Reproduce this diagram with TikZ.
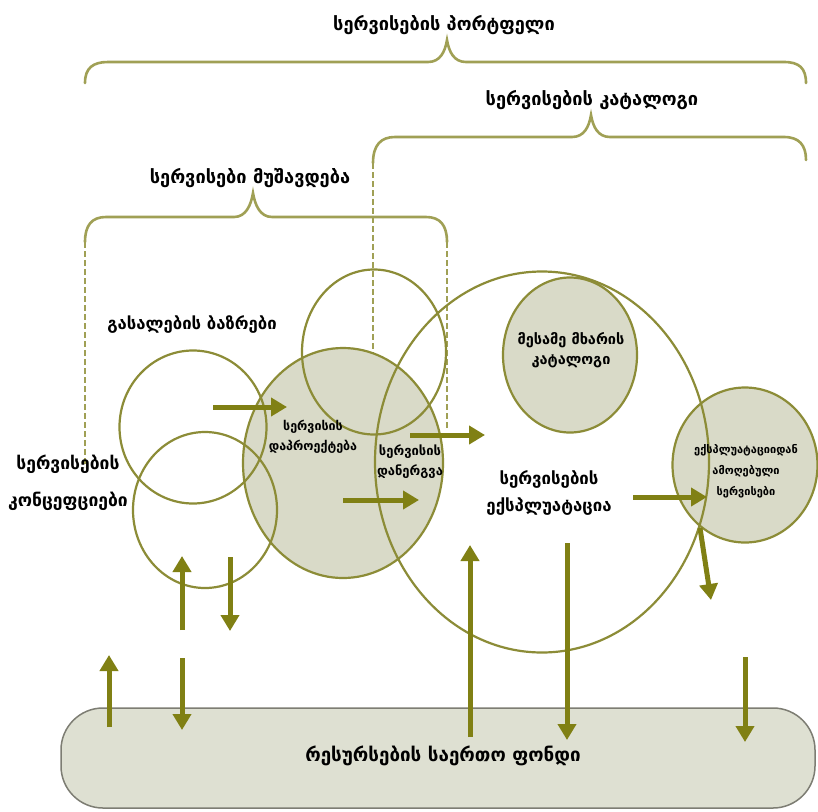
\documentclass[tikz,border=0pt]{standalone}
\usepackage{fontspec}
\setmainfont{DejaVu Sans}
\usetikzlibrary{arrows.meta,shapes.geometric}
\definecolor{bracecol}{RGB}{160,160,85}
\definecolor{ringcol}{RGB}{140,140,55}
\definecolor{arrowcol}{RGB}{128,128,20}
\definecolor{discfill}{RGB}{217,218,200}
\definecolor{poolfill}{RGB}{222,224,210}
\definecolor{poolline}{RGB}{125,125,115}

\begin{document}
\begin{tikzpicture}[x=1pt,y=-1pt,
  brace/.style={draw=bracecol, line width=2.6pt, line cap=round},
  guide/.style={draw=bracecol, line width=1.6pt, dash pattern=on 6pt off 3pt},
  ring/.style={ellipse, draw=ringcol, line width=2.2pt, inner sep=0pt},
  disc/.style={ring, fill=discfill},
  flow/.style={draw=arrowcol, line width=5pt, -{Triangle[length=16pt,width=18pt]}},
  biglabel/.style={font=\bfseries\fontsize{18.2}{22}\selectfont},
  midlabel/.style={font=\bfseries\fontsize{17.5}{37}\selectfont, align=center},
  smalllabel/.style={font=\bfseries\fontsize{12.5}{20}\selectfont, align=center},
]
\fill[white] (0,0) rectangle (818,811);
\useasboundingbox (0,0) rectangle (818,811);

% braces over the phases
\draw[brace] (85,83) .. controls (85,68) and (93,62) .. (108,62) -- (428,62)
  .. controls (440,62) and (445,52) .. (447,40) .. controls (449,52) and (454,62) .. (466,62)
  -- (784,62) .. controls (799,62) and (806,68) .. (806,83);
\draw[brace] (373,163) .. controls (373,145) and (381,137) .. (395,137) -- (572,137)
  .. controls (584,137) and (589,127) .. (591,115) .. controls (593,127) and (598,137) .. (610,137)
  -- (784,137) .. controls (799,137) and (806,145) .. (806,160);
\draw[brace] (85,242) .. controls (85,225) and (92,217) .. (106,217) -- (234,217)
  .. controls (246,217) and (251,205) .. (253,193) .. controls (255,205) and (260,217) .. (272,217)
  -- (426,217) .. controls (440,217) and (447,225) .. (447,242);

% dashed guides below the brace ends
\draw[guide] (85,242) -- (85,467);
\draw[guide] (447,242) -- (447,430);
\draw[guide] (373,163) -- (373,437);

% shared resource pool
\node[draw=poolline, fill=poolfill, rounded corners=42pt, minimum width=754pt,
      minimum height=100pt, line width=1.5pt] (pool) at (438,758) {};

% filled discs
\node[disc, minimum width=200pt, minimum height=230pt] (design) at (343,463) {};
\node[disc, minimum width=134pt, minimum height=155pt] (third) at (570,355) {};
\node[disc, minimum width=145pt, minimum height=155pt] (retired) at (745,465) {};

% open rings
\node[ring, minimum width=147pt, minimum height=153pt] (markets) at (193,427) {};
\node[ring, minimum width=144pt, minimum height=156pt] (concepts) at (205,510) {};
\node[ring, minimum width=144pt, minimum height=165pt] (deploy) at (374,352) {};
\node[ring, minimum width=334pt, minimum height=381pt] (operation) at (542,462) {};

% flow arrows
\coordinate (a1s) at (213,407); \coordinate (a1e) at (287,407);
\coordinate (a2s) at (343,500); \coordinate (a2e) at (419,500);
\coordinate (a3s) at (410,435); \coordinate (a3e) at (485,435);
\coordinate (a4s) at (633,497); \coordinate (a4e) at (707,497);
\coordinate (a5s) at (700,528); \coordinate (a5e) at (711,600);
\coordinate (b1s) at (182,630); \coordinate (b1e) at (182,556);
\coordinate (b2s) at (230,557); \coordinate (b2e) at (230,631);
\coordinate (c1s) at (109,727); \coordinate (c1e) at (109,655);
\coordinate (c2s) at (182,658); \coordinate (c2e) at (182,730);
\coordinate (d1s) at (470,737); \coordinate (d1e) at (470,545);
\coordinate (d2s) at (567,543); \coordinate (d2e) at (567,740);
\coordinate (d3s) at (745,657); \coordinate (d3e) at (745,742);
\foreach \a in {a1,a2,a3,a4,a5,b1,b2,c1,c2,d1,d2,d3}
  \draw[flow] (\a s) -- (\a e);

% labels
\node[biglabel] (tportfolio) at (444,25) {სერვისების პორტფელი};
\node[biglabel] (tcatalog) at (592,100) {სერვისების კატალოგი};
\node[biglabel] (twork) at (250,178) {სერვისები მუშავდება};
\node[biglabel, font=\bfseries\fontsize{16.7}{20}\selectfont] (tmarkets) at (192,325) {გასალების ბაზრები};
\node[midlabel] (tconcepts) at (68,483) {სერვისების\\კონცეფციები};
\node[smalllabel] (tdesign) at (313,437) {სერვისის\\დაპროექტება};
\node[smalllabel, font=\bfseries\fontsize{13}{20}\selectfont] (tdeploy) at (410,462) {სერვისის\\დანერგვა};
\node[midlabel, font=\bfseries\fontsize{16.8}{27}\selectfont] (toperation) at (549,493) {სერვისების\\ექსპლუატაცია};
\node[smalllabel, font=\bfseries\fontsize{14.5}{20}\selectfont] (tthird) at (571,350) {მესამე მხარის\\კატალოგი};
\node[smalllabel, font=\bfseries\fontsize{11}{21}\selectfont] (tretired) at (746,471) {ექსპლუატაციიდან\\ამოღებული\\სერვისები};
\node[biglabel, font=\bfseries\fontsize{18.8}{22}\selectfont] (tpool) at (443,756) {რესურსების საერთო ფონდი};
\end{tikzpicture}
\end{document}
